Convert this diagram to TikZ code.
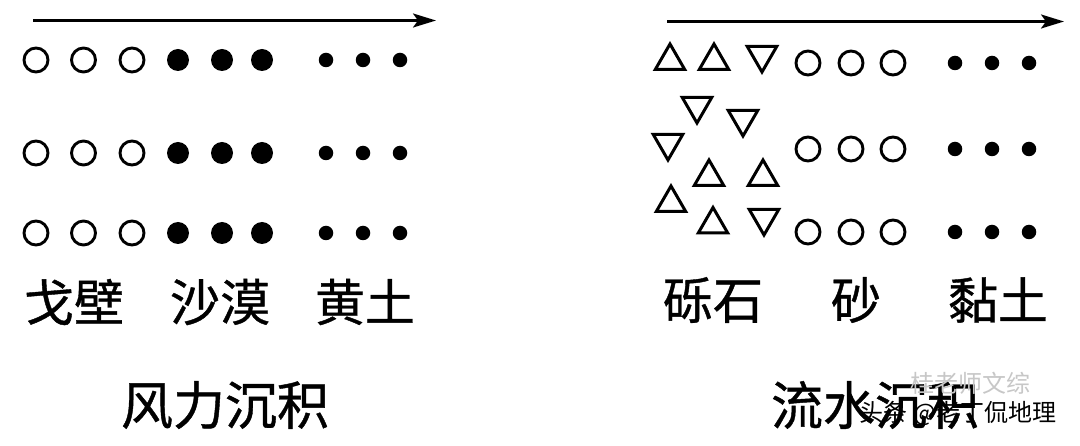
\documentclass[tikz,border=0pt]{standalone}
\usepackage{fontspec}
\newfontfamily\cjk[FakeBold=0.8]{Noto Sans CJK SC}
\newfontfamily\cjkwm{Noto Sans CJK SC}
\usetikzlibrary{arrows.meta,shapes.geometric}
\tikzset{
  opencirc/.style={circle,draw,line width=2.9pt,inner sep=0pt,minimum size=24pt},
  bigdot/.style={circle,fill=black,inner sep=0pt,minimum size=22pt},
  smalldot/.style={circle,fill=black,inner sep=0pt,minimum size=14.5pt},
  tri/.style={regular polygon,regular polygon sides=3,draw,line width=3pt,inner sep=0pt,minimum size=34pt},
  triup/.style={tri},
  tridown/.style={tri,shape border rotate=180},
  flow/.style={line width=2.4pt,-{Stealth[length=23pt,width=14pt,inset=5pt]}},
  lbl/.style={font=\cjk\fontsize{50}{50}\selectfont,inner sep=0pt},
  ttl/.style={font=\cjk\fontsize{52}{52}\selectfont,inner sep=0pt},
  wm/.style={font=\cjkwm\fontsize{24}{24}\selectfont,inner sep=0pt}
}
\begin{document}
\begin{tikzpicture}[x=1pt,y=-1pt]
\useasboundingbox[fill=white] (0,0) rectangle (1080,446);
% arrows
\coordinate (a1s) at (33,20.5);
\coordinate (a1e) at (436,20.5);
\draw[flow] (a1s) -- (a1e);
\coordinate (a2s) at (667,21.5);
\coordinate (a2e) at (1064,21.5);
\draw[flow] (a2s) -- (a2e);
% left panel
\foreach \r/\y in {1/60,2/153,3/233}{
  \node[opencirc] (lo\r a) at (36,\y) {};
  \node[opencirc] (lo\r b) at (83.5,\y) {};
  \node[opencirc] (lo\r c) at (132,\y) {};
  \node[bigdot] (lb\r a) at (178,\y) {};
  \node[bigdot] (lb\r b) at (222,\y) {};
  \node[bigdot] (lb\r c) at (262,\y) {};
  \node[smalldot] (ls\r a) at (326,\y) {};
  \node[smalldot] (ls\r b) at (363,\y) {};
  \node[smalldot] (ls\r c) at (400,\y) {};
}
\node[lbl] (gobi) at (74,302) {戈壁};
\node[lbl] (desert) at (220,302) {沙漠};
\node[lbl] (loess) at (365,302) {黄土};
\node[ttl] (wind) at (225,405) {风力沉积};
% right panel
\foreach \r/\y in {1/63,2/149,3/232}{
  \node[opencirc] (ro\r a) at (808,\y) {};
  \node[opencirc] (ro\r b) at (851,\y) {};
  \node[opencirc] (ro\r c) at (893,\y) {};
  \node[smalldot] (rs\r a) at (955,\y) {};
  \node[smalldot] (rs\r b) at (992,\y) {};
  \node[smalldot] (rs\r c) at (1029,\y) {};
}
\node[triup] (t1) at (670,61) {};
\node[triup] (t2) at (714,61) {};
\node[tridown] (t3) at (762,55) {};
\node[tridown] (t4) at (697,106) {};
\node[tridown] (t5) at (743,119) {};
\node[tridown] (t6) at (668,143) {};
\node[triup] (t7) at (709,177) {};
\node[triup] (t8) at (763,177) {};
\node[triup] (t9) at (671,203) {};
\node[triup] (t10) at (713,224.5) {};
\node[tridown] (t11) at (764,218) {};
\node[lbl] (gravel) at (713,300) {砾石};
\node[lbl] (sand) at (856,300) {砂};
\node[lbl] (clay) at (998,300) {黏土};
\node[ttl] (water) at (875,405) {流水沉积};
% watermark
\node[wm,text=black!22] (wm1) at (970,383) {桂老师文综};
\node[wm,text=black] (wm2) at (958,413) {头条 @老丁侃地理};
\end{tikzpicture}
\end{document}
